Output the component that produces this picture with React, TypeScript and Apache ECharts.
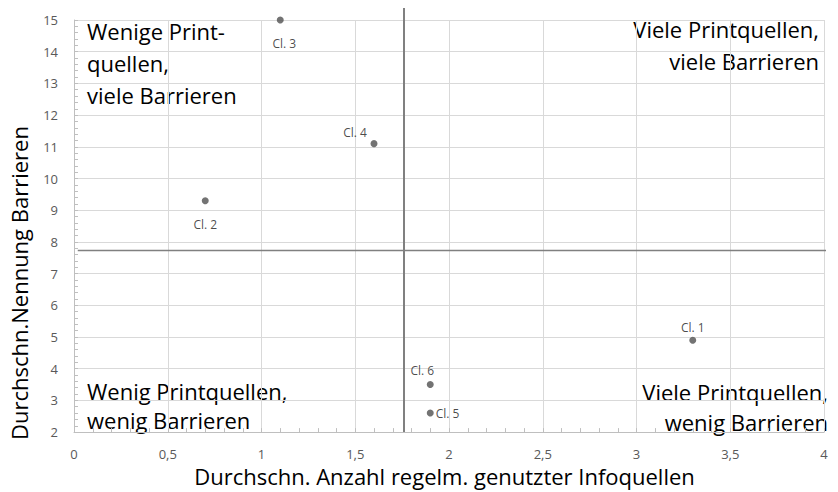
import React, { useEffect, useRef } from "react";
import * as echarts from "echarts";

const clusters = ["Cl. 1", "Cl. 2", "Cl. 3", "Cl. 4", "Cl. 5", "Cl. 6"];
const infoSources = [3.3, 0.7, 1.1, 1.6, 1.9, 1.9];
const barriers = [4.9, 9.3, 15.0, 11.1, 2.6, 3.5];

const dividerX = 1.76;
const dividerY = 7.73;
const verticalSpan = [2, 15.38];
const horizontalSpan = [0.02, 4.08];

const quadrantTexts = [
  "Wenige Print-\nquellen,\nviele Barrieren",
  "Viele Printquellen,\nviele Barrieren",
  "Wenig Printquellen,\nwenig Barrieren",
  "Viele Printquellen,\nwenig Barrieren",
];

const xAxisName = "Durchschn. Anzahl regelm. genutzter Infoquellen";
const yAxisName = "Durchschn.Nennung Barrieren";

const FONT = "'Open Sans', 'Noto Sans', sans-serif";

export default function App() {
  const ref = useRef<HTMLDivElement>(null);
  useEffect(() => {
    if (!ref.current) return;
    const chart = echarts.init(ref.current, null, { renderer: "svg" });
    const labelPos: any[] = [
      { position: "top", offset: [0, 2] },
      { position: "bottom", offset: [0, 9] },
      { position: "bottom", offset: [4, 9] },
      { position: "top", offset: [-19, 3] },
      { position: "right", offset: [-3, 0] },
      { position: "top", offset: [-8, 0] },
    ];
    const pts = clusters.map((c, i) => ({
      value: [infoSources[i], barriers[i]],
      name: c,
      label: { show: true, formatter: c, ...labelPos[i] },
    }));
    const fmt = (v: number) => String(v).replace(".", ",");
    const bigText = (text: string, lineHeight: number, align: string) => ({
      text,
      fontSize: 22,
      fontFamily: FONT,
      fill: "#000",
      lineHeight,
      textAlign: align,
      align,
    });
    chart.setOption({
      animation: false,
      textStyle: { fontFamily: FONT },
      grid: { left: 74, right: 14, top: 20, bottom: 57, containLabel: false },
      xAxis: {
        type: "value",
        min: 0,
        max: 4,
        interval: 0.5,
        name: xAxisName,
        nameLocation: "middle",
        nameGap: 31,
        nameTextStyle: { fontSize: 22, color: "#000", fontFamily: FONT, padding: [0, 9, 0, 0] },
        axisLine: { show: true, lineStyle: { color: "#bfbfbf" } },
        axisTick: { show: true, inside: true, length: 4, lineStyle: { color: "#bfbfbf" } },
        minorTick: { show: true, splitNumber: 5, length: 4, lineStyle: { color: "#bfbfbf" } },
        axisLabel: { formatter: fmt, color: "#595959", fontSize: 13, margin: 15 },
        splitLine: { show: true, lineStyle: { color: "#d9d9d9", width: 1 } },
      },
      yAxis: {
        type: "value",
        min: 2,
        max: 15,
        interval: 1,
        name: yAxisName,
        nameLocation: "middle",
        nameGap: 44,
        nameTextStyle: { fontSize: 22, color: "#000", fontFamily: FONT, padding: [0, 114, 0, 0] },
        axisLine: { show: true, lineStyle: { color: "#bfbfbf" } },
        axisTick: { show: true, inside: true, length: 4, lineStyle: { color: "#bfbfbf" } },
        minorTick: { show: true, splitNumber: 5, length: 4, lineStyle: { color: "#bfbfbf" } },
        axisLabel: { formatter: fmt, color: "#595959", fontSize: 13, margin: 16 },
        splitLine: { show: true, lineStyle: { color: "#d9d9d9", width: 1 } },
      },
      series: [
        {
          type: "line",
          data: [
            [dividerX, verticalSpan[0]],
            [dividerX, verticalSpan[1]],
          ],
          symbol: "none",
          clip: false,
          silent: true,
          lineStyle: { color: "#808080", width: 2 },
        },
        {
          type: "line",
          data: [
            [horizontalSpan[0], dividerY],
            [horizontalSpan[1], dividerY],
          ],
          symbol: "none",
          clip: false,
          silent: true,
          lineStyle: { color: "#808080", width: 1.5 },
        },
        {
          type: "scatter",
          data: pts,
          symbolSize: 7,
          clip: false,
          itemStyle: { color: "#505050" },
          label: { color: "#1a1a1a", fontSize: 12, fontFamily: FONT },
        },
      ],
      graphic: [
        { type: "text", left: 87, top: 15, style: bigText(quadrantTexts[0], 32, "left") },
        { type: "text", right: 19, top: 13, style: bigText(quadrantTexts[1], 32, "right") },
        { type: "text", left: 87, top: 376, style: bigText(quadrantTexts[2], 29, "left") },
        { type: "text", right: 10, top: 377, style: bigText(quadrantTexts[3], 30, "right") },
      ],
    });
    return () => chart.dispose();
  }, []);
  return (
    <div
      ref={ref}
      style={{ width: 838, height: 492, position: "absolute", left: 0, top: 0 }}
    />
  );
}
